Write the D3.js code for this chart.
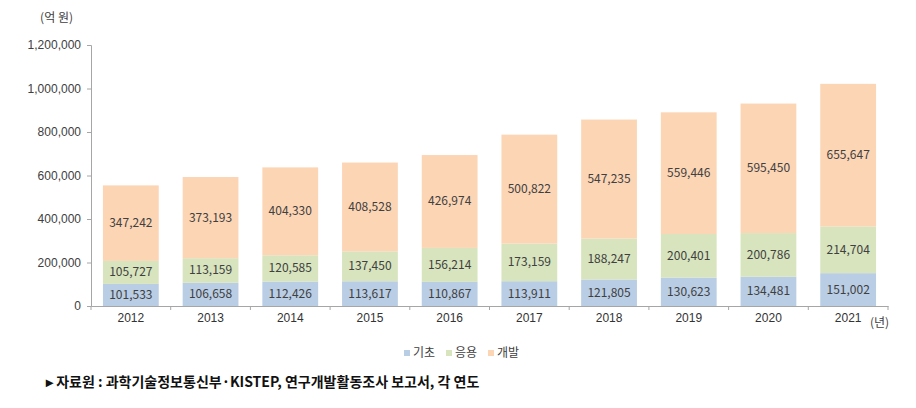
<!DOCTYPE html>
<html>
<head>
<meta charset="utf-8">
<script src="https://cdn.jsdelivr.net/npm/d3@7"></script>
<style>
  body { margin: 0; background: #fff; }
  svg { display: block; font-family: "Noto Sans CJK KR", "Noto Sans", sans-serif; }
</style>
</head>
<body>
<div id="chart"></div>
<script>
// Данные
const years = ['2012', '2013', '2014', '2015', '2016', '2017', '2018', '2019', '2020', '2021']
const basic = [101533, 106658, 112426, 113617, 110867, 113911, 121805, 130623, 134481, 151002]
const applied = [105727, 113159, 120585, 137450, 156214, 173159, 188247, 200401, 200786, 214704]
const development = [347242, 373193, 404330, 408528, 426974, 500822, 547235, 559446, 595450, 655647]
const seriesNames = ['기초', '응용', '개발']
const yTicks = [0, 200000, 400000, 600000, 800000, 1000000, 1200000]

const width = 916
const height = 408
const colors = ['#b9cde5', '#d7e4bd', '#fcd5b5']
const textColor = '#404040'
const axisColor = '#a6a6a6'

const rows = years.map((y, i) => ({ year: y, 기초: basic[i], 응용: applied[i], 개발: development[i] }))
const stacked = d3.stack().keys(seriesNames)(rows)

const svg = d3.select('#chart')
  .append('svg')
  .attr('width', width)
  .attr('height', height)

const x = d3.scaleBand()
  .domain(years)
  .range([91, 888])
  .paddingInner(0.3)
  .paddingOuter(0.15)

const y = d3.scaleLinear()
  .domain([0, 1200000])
  .range([306, 45])

// Столбцы
const layers = svg.append('g')
  .selectAll('g')
  .data(stacked)
  .join('g')
  .attr('fill', (d, i) => colors[i])

layers.selectAll('rect')
  .data(d => d)
  .join('rect')
  .attr('x', d => x(d.data.year))
  .attr('y', d => y(d[1]))
  .attr('width', x.bandwidth())
  .attr('height', d => y(d[0]) - y(d[1]))

// Подписи значений
layers.selectAll('text')
  .data(d => d)
  .join('text')
  .attr('x', d => x(d.data.year) + x.bandwidth() / 2)
  .attr('y', d => (y(d[0]) + y(d[1])) / 2 + 4)
  .attr('text-anchor', 'middle')
  .attr('fill', textColor)
  .attr('font-size', '12px')
  .text(d => d3.format(',')(d[1] - d[0]))

// Ось Y
const yAxis = svg.append('g')
  .attr('transform', 'translate(91,0)')
  .call(d3.axisLeft(y).tickValues(yTicks).tickSize(4).tickFormat(d3.format(',')))
yAxis.select('.domain').attr('stroke', axisColor)
yAxis.selectAll('line').attr('stroke', axisColor)
yAxis.selectAll('text').attr('fill', textColor).attr('font-size', '12px').attr('x', -10)

// Ось X
const xAxis = svg.append('g')
  .attr('transform', 'translate(0,306)')
  .call(d3.axisBottom(x).tickSize(0).tickSizeOuter(0))
xAxis.select('.domain').attr('stroke', axisColor)
xAxis.selectAll('text').attr('fill', '#333').attr('font-size', '12px').attr('dy', '1.1em').attr('font-weight', '500')

// Разделители категорий
const bounds = years.map(d => x(d) - x.step() * x.paddingInner() / 2)
bounds.push(x(years[years.length - 1]) + x.bandwidth() + x.step() * x.paddingInner() / 2)
svg.append('g')
  .selectAll('line')
  .data(bounds)
  .join('line')
  .attr('x1', d => d)
  .attr('x2', d => d)
  .attr('y1', 306)
  .attr('y2', 310)
  .attr('stroke', axisColor)

// Единицы
svg.append('text')
  .attr('x', 73)
  .attr('y', 22)
  .attr('text-anchor', 'end')
  .attr('fill', textColor)
  .attr('font-size', '12px')
  .text('(억 원)')

svg.append('text')
  .attr('x', 870)
  .attr('y', 327)
  .attr('fill', textColor)
  .attr('font-size', '12px')
  .text('(년)')

// Легенда
const legend = svg.append('g')
  .attr('transform', 'translate(404,356)')
const legendX = [0, 42, 84]
seriesNames.forEach((name, i) => {
  const g = legend.append('g').attr('transform', `translate(${legendX[i]},0)`)
  g.append('rect')
    .attr('x', 0)
    .attr('y', -6)
    .attr('width', 6)
    .attr('height', 6)
    .attr('fill', colors[i])
  g.append('text')
    .attr('x', 9)
    .attr('y', 1)
    .attr('fill', textColor)
    .attr('font-size', '12px')
    .text(name)
})

// Источник
svg.append('text')
  .attr('x', 46)
  .attr('y', 387)
  .attr('fill', '#111')
  .attr('font-size', '14px')
  .attr('font-weight', '700')
  .text('▸ 자료원 : 과학기술정보통신부·KISTEP, 연구개발활동조사 보고서, 각 연도')
</script>
</body>
</html>
